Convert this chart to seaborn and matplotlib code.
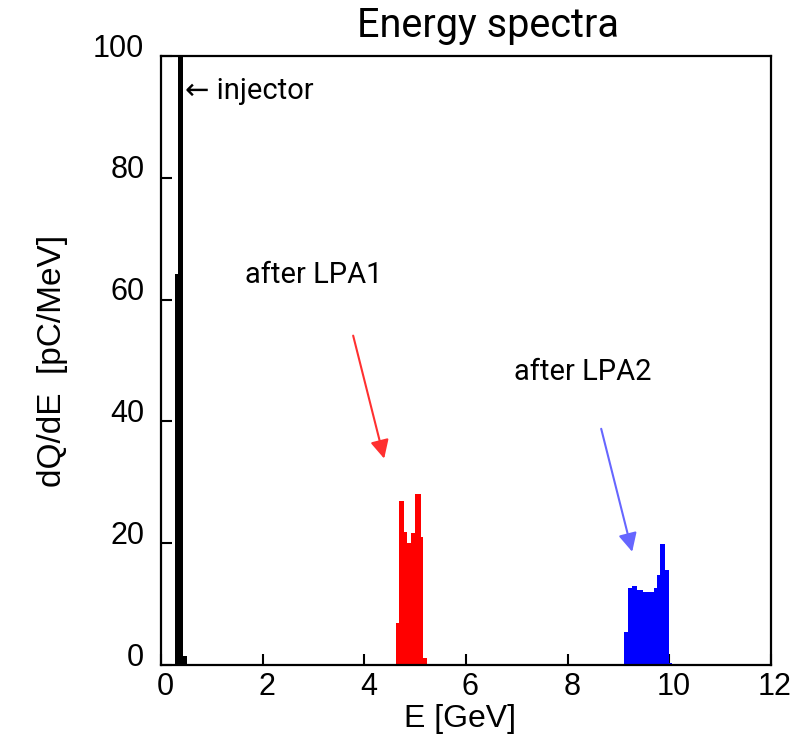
import matplotlib
matplotlib.use("Agg")
import matplotlib.pyplot as plt
import matplotlib.transforms as mtransforms
import seaborn as sns
import numpy as np
import pandas as pd

sns.set_style("white")
plt.rcParams["text.color"] = "black"
plt.rcParams["axes.labelcolor"] = "black"
plt.rcParams["xtick.color"] = "black"
plt.rcParams["ytick.color"] = "black"

# spectra: bin edges [GeV] and dQ/dE [pC/MeV]
injector_edges = [0.276, 0.34, 0.423, 0.51]
injector_vals = [64.3, 130.0, 1.5]

lpa1_edges = [4.63, 4.69, 4.78, 4.84, 4.92, 4.99, 5.11, 5.16, 5.23]
lpa1_vals = [6.9, 27.0, 21.9, 20.1, 21.7, 28.1, 21.1, 1.2]

lpa2_edges = [9.11, 9.18, 9.27, 9.36, 9.49, 9.69, 9.76, 9.82, 9.92, 9.99, 10.05]
lpa2_vals = [5.5, 12.6, 13.0, 12.3, 12.0, 12.7, 14.8, 19.9, 15.6, 0.4]

xticks = [0, 2, 4, 6, 8, 10, 12]
yticks = [0, 20, 40, 60, 80, 100]

text_font = ["Roboto", "DejaVu Sans"]
tick_font = "Liberation Sans"


def draw_spectrum(ax, edges, vals, color):
    e = np.asarray(edges)
    df = pd.DataFrame({"E": (e[:-1] + e[1:]) / 2, "w": vals})
    sns.histplot(data=df, x="E", weights="w", bins=list(edges), element="step",
                 fill=True, color=color, alpha=1, linewidth=0, ax=ax)


fig = plt.figure(figsize=(8.1, 7.38), dpi=100)
ax = fig.add_axes([0.1988, 0.0989, 0.753, 0.825])

draw_spectrum(ax, injector_edges, injector_vals, "black")
draw_spectrum(ax, lpa1_edges, lpa1_vals, "#ff0000")
draw_spectrum(ax, lpa2_edges, lpa2_vals, "#0000ff")

ax.set_xlim(0, 12)
ax.set_ylim(0, 100)
ax.set_xticks(xticks)
ax.set_yticks(yticks)
ax.tick_params(direction="in", length=8, width=1.5, top=False, right=False,
               bottom=True, left=True)
for s in ax.spines.values():
    s.set_linewidth(1.6)
    s.set_color("black")

ax.tick_params(axis="x", pad=5)
for lab in ax.get_xticklabels():
    lab.set_family(tick_font)
    lab.set_fontsize(22)
    lab.set_transform(lab.get_transform() +
                      mtransforms.ScaledTranslation(4 / 100, 0, fig.dpi_scale_trans))
ax.tick_params(axis="y", pad=12)
for lab in ax.get_yticklabels():
    lab.set_family(tick_font)
    lab.set_fontsize(22)
    lab.set_transform(lab.get_transform() +
                      mtransforms.ScaledTranslation(0, 11 / 100, fig.dpi_scale_trans))

ax.set_xlabel("E [GeV]", family=tick_font, fontsize=23)
ax.xaxis.set_label_coords(0.49, -0.064)
ax.set_ylabel("dQ/dE  [pC/MeV]", family=tick_font, fontsize=24, labelpad=18)

fig.text(0.602, 0.966, "Energy spectra", family=text_font, fontsize=28.5,
         ha="center", va="center")

ax.text(0.47, 94.2, "\u2190 injector", family=text_font, fontsize=21,
        ha="left", va="center")
ax.text(1.65, 64.1, "after LPA1", family=text_font, fontsize=21,
        ha="left", va="center")
ax.text(6.95, 48.2, "after LPA2", family=text_font, fontsize=21,
        ha="left", va="center")

ax.annotate("", xy=(4.39, 33.9), xytext=(3.78, 54.1),
            arrowprops=dict(arrowstyle="-|>", color="#ff3030", lw=1.5,
                            mutation_scale=28, shrinkA=0, shrinkB=0))
ax.annotate("", xy=(9.27, 18.6), xytext=(8.66, 38.8),
            arrowprops=dict(arrowstyle="-|>", color="#6666ff", lw=1.5,
                            mutation_scale=28, shrinkA=0, shrinkB=0))

fig.savefig("out.png", dpi=100)
